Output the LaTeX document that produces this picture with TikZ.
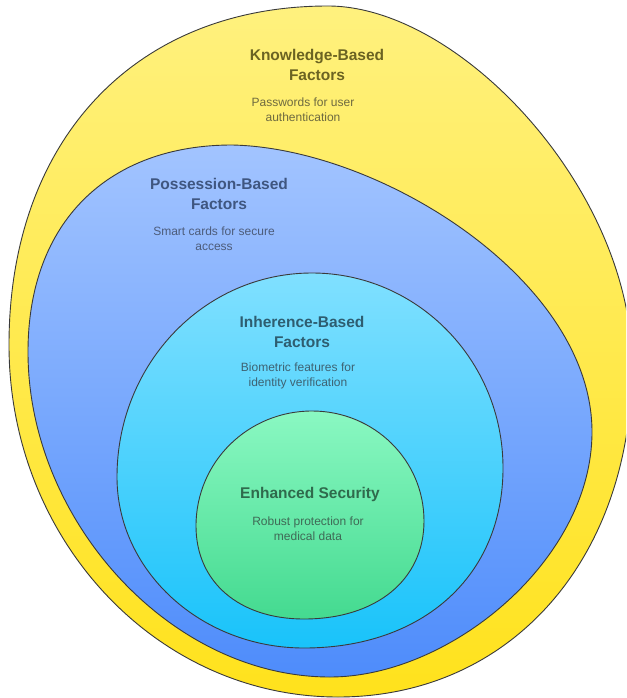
\documentclass[tikz,border=0pt]{standalone}
\usepackage{fontspec}
\setmainfont{Liberation Sans}
\definecolor{ytop}{HTML}{FFF17E}
\definecolor{ybot}{HTML}{FFE21C}
\definecolor{btop}{HTML}{A2C4FF}
\definecolor{bbot}{HTML}{4E8CFB}
\definecolor{ctop}{HTML}{80E0FF}
\definecolor{cbot}{HTML}{19C3FA}
\definecolor{gtop}{HTML}{8AF8C2}
\definecolor{gbot}{HTML}{44DA90}
\definecolor{edge}{HTML}{3A3A3A}
\definecolor{ytitle}{HTML}{6B6322}
\definecolor{ydesc}{HTML}{6E6A40}
\definecolor{btitle}{HTML}{3F5680}
\definecolor{bdesc}{HTML}{4D5C7A}
\definecolor{ctitle}{HTML}{2E5D70}
\definecolor{cdesc}{HTML}{3E6272}
\definecolor{gtitle}{HTML}{2F6A4C}
\definecolor{gdesc}{HTML}{3F6A56}
\tikzset{
  blob/.style={draw=edge, line width=0.9pt},
  ttl/.style={font=\bfseries\fontsize{15.5}{20.5}\selectfont, align=center, inner sep=0pt},
  dsc/.style={font=\fontsize{12}{15}\selectfont, align=center, inner sep=0pt}
}
\begin{document}
\begin{tikzpicture}[x=1pt,y=-1pt]
\useasboundingbox (0,0) rectangle (626,698);
\clip (0,0) rectangle (626,698);
\fill[white] (0,0) rectangle (626,698);
% outer yellow
\path[blob, top color=ytop, bottom color=ybot]
  (328,6) .. controls (460,6) and (632,190) .. (632,365)
  .. controls (632,560) and (510,697) .. (338,697)
  .. controls (156,697) and (9,539) .. (9,345)
  .. controls (9,140) and (135,6) .. (328,6) -- cycle;
% blue
\path[blob, top color=btop, bottom color=bbot]
  (232,145) .. controls (380,148) and (592,280) .. (592,432)
  .. controls (592,560) and (450,677) .. (330,677)
  .. controls (170,677) and (28,520) .. (28,352)
  .. controls (28,220) and (110,145) .. (232,145) -- cycle;
% cyan
\path[blob, top color=ctop, bottom color=cbot]
  (312,273) .. controls (417,273) and (503,360) .. (503,468)
  .. controls (503,576) and (423,648) .. (304,648)
  .. controls (201,648) and (117,571) .. (117,477)
  .. controls (117,364) and (204,273) .. (312,273) -- cycle;
% green
\path[blob, top color=gtop, bottom color=gbot]
  (312,411) .. controls (374,411) and (424,460) .. (424,521)
  .. controls (424,580) and (376,619) .. (304,619)
  .. controls (239,619) and (196,582) .. (196,526)
  .. controls (196,462) and (248,411) .. (312,411) -- cycle;
% texts
\node[ttl, text=ytitle] (kt) at (317,65) {Knowledge-Based\\Factors};
\node[dsc, text=ydesc] (kd) at (303,110) {Passwords for user\\authentication};
\node[ttl, text=btitle] (pt) at (219,194) {Possession-Based\\Factors};
\node[dsc, text=bdesc] (pd) at (214,239) {Smart cards for secure\\access};
\node[ttl, text=ctitle] (it) at (302,332) {Inherence-Based\\Factors};
\node[dsc, text=cdesc] (id) at (298,376) {Biometric features for\\identity verification};
\node[ttl, text=gtitle] (et) at (310,494) {Enhanced Security};
\node[dsc, text=gdesc] (ed) at (308,529) {Robust protection for\\medical data};
\end{tikzpicture}
\end{document}
